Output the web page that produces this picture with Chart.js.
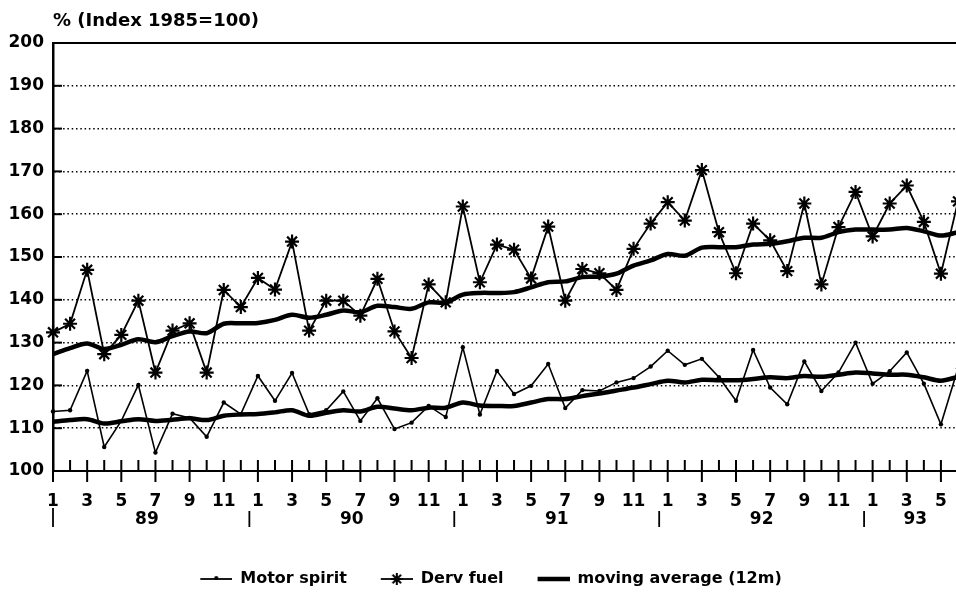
<!DOCTYPE html>
<html>
<head>
<meta charset="utf-8">
<script src="https://cdn.jsdelivr.net/npm/chart.js@4.4.0/dist/chart.umd.min.js"></script>
<style>
  html, body { margin: 0; padding: 0; background: #fff; overflow: hidden; }
  canvas { display: block; }
</style>
</head>
<body>
<canvas id="fuelChart" width="958" height="598"></canvas>
<script>
// month numbers, Jan 1989 .. Jun 1993
const monthLabels = [
  '1','2','3','4','5','6','7','8','9','10','11','12',
  '1','2','3','4','5','6','7','8','9','10','11','12',
  '1','2','3','4','5','6','7','8','9','10','11','12',
  '1','2','3','4','5','6','7','8','9','10','11','12',
  '1','2','3','4','5','6'
];
const yearLabels = ['89', '90', '91', '92', '93'];
const yearStarts = [0, 12, 24, 36, 48];

const motorSpirit = [
  113.9, 114.2, 123.4, 105.6, 111.7, 120.1, 104.3, 113.4, 112.4, 108.0, 116.0, 113.3,
  122.2, 116.4, 122.9, 113.3, 114.2, 118.6, 111.7, 117.0, 109.8, 111.3, 115.2, 112.6,
  128.9, 113.2, 123.4, 118.0, 119.9, 125.0, 114.7, 118.9, 118.7, 120.7, 121.7, 124.4,
  128.1, 124.8, 126.2, 121.9, 116.4, 128.3, 119.5, 115.6, 125.6, 118.7, 123.0, 130.0,
  120.4, 123.3, 127.7, 120.4, 110.9, 124.0
];
const dervFuel = [
  132.4, 134.4, 147.0, 127.3, 131.8, 139.8, 123.0, 132.8, 134.5, 123.0, 142.3, 138.3,
  145.1, 142.4, 153.6, 132.8, 139.8, 139.8, 136.3, 144.9, 132.6, 126.4, 143.6, 139.4,
  161.8, 144.1, 152.9, 151.7, 145.0, 157.1, 139.8, 147.2, 146.2, 142.3, 151.9, 157.8,
  162.8, 158.5, 170.3, 155.8, 146.2, 157.8, 153.9, 146.7, 162.5, 143.6, 157.0, 165.2,
  154.8, 162.5, 166.7, 158.2, 146.1, 163.0
];
const motorAverage = [
  111.5, 111.9, 112.1, 111.1, 111.6, 112.1, 111.7, 112.0, 112.3, 111.9, 112.9, 113.2,
  113.3, 113.7, 114.2, 112.9, 113.6, 114.2, 113.9, 115.0, 114.6, 114.2, 114.8, 114.8,
  116.0, 115.3, 115.2, 115.2, 116.0, 116.8, 116.8, 117.5, 118.1, 118.8, 119.5, 120.3,
  121.1, 120.7, 121.3, 121.2, 121.2, 121.5, 121.9, 121.7, 122.2, 122.0, 122.5, 123.0,
  122.8, 122.5, 122.5, 121.9, 121.1, 122.0
];
const dervAverage = [
  127.3, 128.7, 129.8, 128.5, 129.5, 130.8, 130.1, 131.5, 132.6, 132.2, 134.4, 134.5,
  134.6, 135.3, 136.5, 135.8, 136.5, 137.5, 137.1, 138.6, 138.3, 137.9, 139.4, 139.4,
  141.2, 141.6, 141.6, 141.8, 142.9, 144.1, 144.3, 145.3, 145.4, 146.1, 148.0, 149.2,
  150.7, 150.3, 152.2, 152.3, 152.3, 152.9, 153.1, 153.7, 154.5, 154.5, 155.8, 156.4,
  156.4, 156.4, 156.8, 156.0, 155.0, 155.8
];
const chartTitle = '% (Index 1985=100)';

const FONT = '"DejaVu Sans", sans-serif';

function drawAsterisk(g, cx, cy, r) {
  g.beginPath();
  for (let k = 0; k < 4; k++) {
    const a = k * Math.PI / 4;
    g.moveTo(cx - r * Math.cos(a), cy - r * Math.sin(a));
    g.lineTo(cx + r * Math.cos(a), cy + r * Math.sin(a));
  }
  g.stroke();
}

// legend swatches: line sample on the right, blank space on the left for item spacing
function legendIcon(kind) {
  const c = document.createElement('canvas');
  c.width = 56;
  c.height = 16;
  const g = c.getContext('2d');
  g.strokeStyle = '#000';
  g.fillStyle = '#000';
  g.lineWidth = kind === 'avg' ? 4.5 : 1.8;
  g.beginPath();
  g.moveTo(24, 8);
  g.lineTo(56, 8);
  g.stroke();
  if (kind === 'dot') {
    g.beginPath();
    g.arc(40, 7, 2, 0, Math.PI * 2);
    g.fill();
  }
  if (kind === 'star') {
    g.lineWidth = 2;
    drawAsterisk(g, 40, 8, 6);
  }
  return c;
}
const legendIcons = [legendIcon('dot'), legendIcon('star'), legendIcon('avg')];

const axisDecor = {
  id: 'axisDecor',
  afterDraw(chart) {
    const { ctx, chartArea: a, scales: { x, y } } = chart;
    const line = (x1, y1, x2, y2) => {
      ctx.beginPath();
      ctx.moveTo(x1, y1);
      ctx.lineTo(x2, y2);
      ctx.stroke();
    };
    ctx.save();
    ctx.strokeStyle = '#000';
    ctx.fillStyle = '#000';

    ctx.font = 'bold 18px ' + FONT;
    ctx.textAlign = 'left';
    ctx.textBaseline = 'middle';
    ctx.fillText(chartTitle, 53, 21);

    ctx.lineWidth = 2;
    line(a.left, a.top, a.right, a.top);

    y.ticks.forEach(t => {
      const py = y.getPixelForValue(t.value);
      line(a.left, py, a.left + 9, py);
    });

    monthLabels.forEach((m, i) => {
      const px = x.getPixelForValue(i);
      line(px, a.bottom - 11, px, i % 2 === 0 ? a.bottom + 11 : a.bottom);
    });

    ctx.lineWidth = 1.8;
    ctx.font = 'bold 17px ' + FONT;
    ctx.textAlign = 'center';
    yearLabels.forEach((yr, k) => {
      const start = yearStarts[k];
      const end = k + 1 < yearStarts.length ? yearStarts[k + 1] - 1 : monthLabels.length - 1;
      const sx = k === 0 ? x.getPixelForValue(0) : x.getPixelForValue(start - 0.5);
      line(sx, k === 0 ? a.bottom + 37 : a.bottom + 40, sx, a.bottom + 56);
      const cx = (x.getPixelForValue(start) + x.getPixelForValue(end)) / 2;
      ctx.fillText(yr, cx, a.bottom + 49);
    });
    ctx.restore();
  }
};

new Chart(document.getElementById('fuelChart'), {
  type: 'line',
  data: {
    labels: monthLabels,
    datasets: [
      {
        label: 'Motor spirit',
        data: motorSpirit,
        borderColor: '#000',
        backgroundColor: '#000',
        borderWidth: 1.6,
        pointRadius: 2.2,
        pointStyle: 'circle',
        pointBorderWidth: 0,
        tension: 0
      },
      {
        label: 'Derv fuel',
        data: dervFuel,
        borderColor: '#000',
        backgroundColor: '#000',
        borderWidth: 1.8,
        pointRadius: 7,
        pointStyle: 'star',
        pointBorderWidth: 2.2,
        tension: 0
      },
      {
        label: 'moving average (12m)',
        data: dervAverage,
        borderColor: '#000',
        borderWidth: 4.5,
        pointRadius: 0,
        tension: 0.3
      },
      {
        label: 'motor average',
        data: motorAverage,
        borderColor: '#000',
        borderWidth: 4.5,
        pointRadius: 0,
        tension: 0.3
      }
    ]
  },
  options: {
    responsive: false,
    animation: false,
    devicePixelRatio: 1,
    layout: { autoPadding: false, padding: { top: 43, left: 0, right: 0, bottom: 1 } },
    scales: {
      x: {
        offset: false,
        grid: { display: false, drawTicks: false },
        border: { display: true, color: '#000', width: 2 },
        ticks: {
          autoSkip: false,
          maxRotation: 0,
          padding: 20,
          color: '#000',
          font: { family: FONT, size: 17, weight: 'bold' },
          callback: (v, i) => (i % 2 === 0 ? monthLabels[i] : '')
        },
        afterFit: s => {
          s.height = 90;
          s.paddingLeft = 0;
          s.paddingRight = 0;
        }
      },
      y: {
        min: 100,
        max: 200,
        grid: { color: '#000', lineWidth: 1.5, drawTicks: false },
        border: { display: true, color: '#000', width: 2.5, dash: [1.5, 2.8] },
        ticks: {
          stepSize: 10,
          padding: 9,
          color: '#000',
          font: { family: FONT, size: 17, weight: 'bold' }
        },
        afterFit: s => { s.width = 53; }
      }
    },
    plugins: {
      title: { display: false },
      tooltip: { enabled: false },
      legend: {
        position: 'bottom',
        labels: {
          usePointStyle: true,
          pointStyleWidth: 56,
          boxHeight: 16,
          padding: 10,
          color: '#000',
          font: { family: FONT, size: 16, weight: 'bold' },
          generateLabels: chart => Chart.defaults.plugins.legend.labels.generateLabels(chart)
            .filter(it => it.datasetIndex < 3)
            .map(it => Object.assign(it, { pointStyle: legendIcons[it.datasetIndex] }))
        }
      }
    }
  },
  plugins: [axisDecor]
});
</script>
</body>
</html>
